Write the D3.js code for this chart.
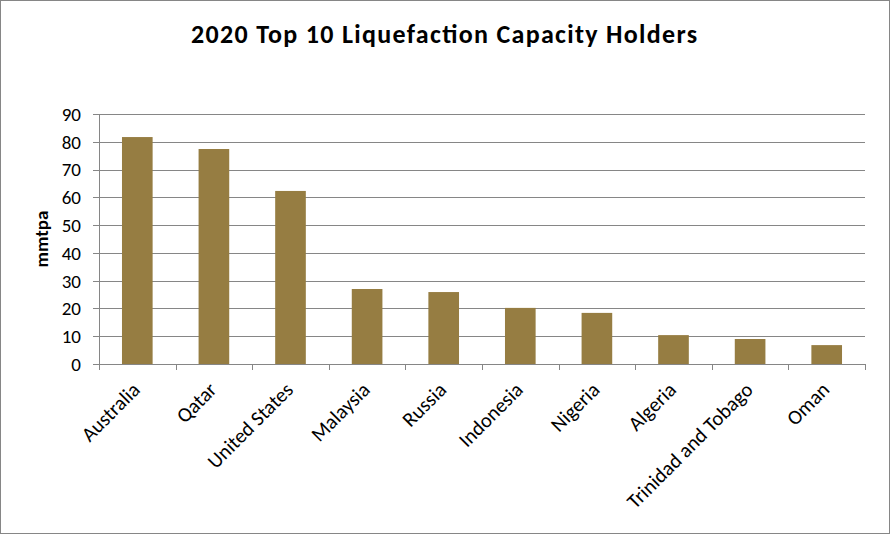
<!DOCTYPE html>
<html>
  <head>
    <meta charset="utf-8">
    <style>
      body { margin: 0; background: #fff; }
      text { font-family: Carlito, Calibri, Lato, "Open Sans", sans-serif; fill: #000; }
    </style>
    <script src="https://cdnjs.cloudflare.com/ajax/libs/d3/7.8.5/d3.min.js"></script>
  </head>
  <body>
    <svg width="890" height="534" id="SVG"></svg>
    <script>
      var countries = ["Australia", "Qatar", "United States", "Malaysia", "Russia",
                       "Indonesia", "Nigeria", "Algeria", "Trinidad and Tobago", "Oman"];
      var capacity = [81.7, 77.4, 62.3, 27.0, 25.9, 20.2, 18.4, 10.4, 9.0, 6.8];
      var yTicks = [0, 10, 20, 30, 40, 50, 60, 70, 80, 90];

      var svg = d3.select("#SVG");
      var plot = { left: 99, right: 865, top: 114, bottom: 364 };

      // outer chart border
      svg.append("rect")
         .attr("x", 0.5).attr("y", 0.5)
         .attr("width", 889).attr("height", 533)
         .attr("fill", "#fff").attr("stroke", "#868686");

      var x = d3.scaleBand()
                .domain(countries)
                .range([plot.left, plot.right])
                .paddingInner(0.6)
                .paddingOuter(0.3);
      var y = d3.scaleLinear().domain([0, 90]).range([plot.bottom, plot.top]);

      // gridlines
      svg.append("g")
         .selectAll("line")
         .data(yTicks)
         .enter()
         .append("line")
         .attr("x1", plot.left - 6).attr("x2", plot.right)
         .attr("y1", function(d) { return Math.round(y(d)) + 0.5 })
         .attr("y2", function(d) { return Math.round(y(d)) + 0.5 })
         .attr("stroke", "#868686").attr("stroke-width", 1);

      // y axis line
      svg.append("line")
         .attr("x1", plot.left + 0.5).attr("x2", plot.left + 0.5)
         .attr("y1", plot.top).attr("y2", plot.bottom)
         .attr("stroke", "#868686");

      // y labels
      svg.append("g")
         .selectAll("text")
         .data(yTicks)
         .enter()
         .append("text")
         .attr("x", plot.left - 18)
         .attr("y", function(d) { return y(d) })
         .attr("dy", "0.36em")
         .attr("text-anchor", "end")
         .attr("font-size", 19)
         .text(function(d) { return d });

      // x ticks
      var step = x.step();
      svg.append("g")
         .selectAll("line")
         .data(d3.range(countries.length + 1))
         .enter()
         .append("line")
         .attr("x1", function(i) { return Math.round(plot.left + i * step) + 0.5 })
         .attr("x2", function(i) { return Math.round(plot.left + i * step) + 0.5 })
         .attr("y1", plot.bottom).attr("y2", plot.bottom + 6)
         .attr("stroke", "#868686");

      // bars
      svg.append("g")
         .selectAll("rect")
         .data(countries)
         .enter()
         .append("rect")
         .attr("x", function(d) { return x(d) })
         .attr("width", x.bandwidth())
         .attr("y", function(d, i) { return y(capacity[i]) })
         .attr("height", function(d, i) { return plot.bottom - y(capacity[i]) })
         .attr("fill", "#967D42");

      // x labels
      svg.append("g")
         .selectAll("text")
         .data(countries)
         .enter()
         .append("text")
         .attr("transform", function(d) {
           return "translate(" + (x(d) + x.bandwidth() / 2 + 4) + "," + (plot.bottom + 27) + ") rotate(-45)";
         })
         .attr("text-anchor", "end")
         .attr("font-size", 20.5)
         .text(function(d) { return d });

      // title
      svg.append("text")
         .attr("x", 444).attr("y", 43)
         .attr("text-anchor", "middle")
         .attr("font-size", 26)
         .attr("font-weight", "bold")
         .attr("textLength", 506)
         .attr("lengthAdjust", "spacing")
         .text("2020 Top 10 Liquefaction Capacity Holders");

      // y axis title
      svg.append("text")
         .attr("transform", "translate(48," + 239 + ") rotate(-90)")
         .attr("text-anchor", "middle")
         .attr("font-size", 19)
         .attr("font-weight", "bold")
         .text("mmtpa");
    </script>
  </body>
</html>
